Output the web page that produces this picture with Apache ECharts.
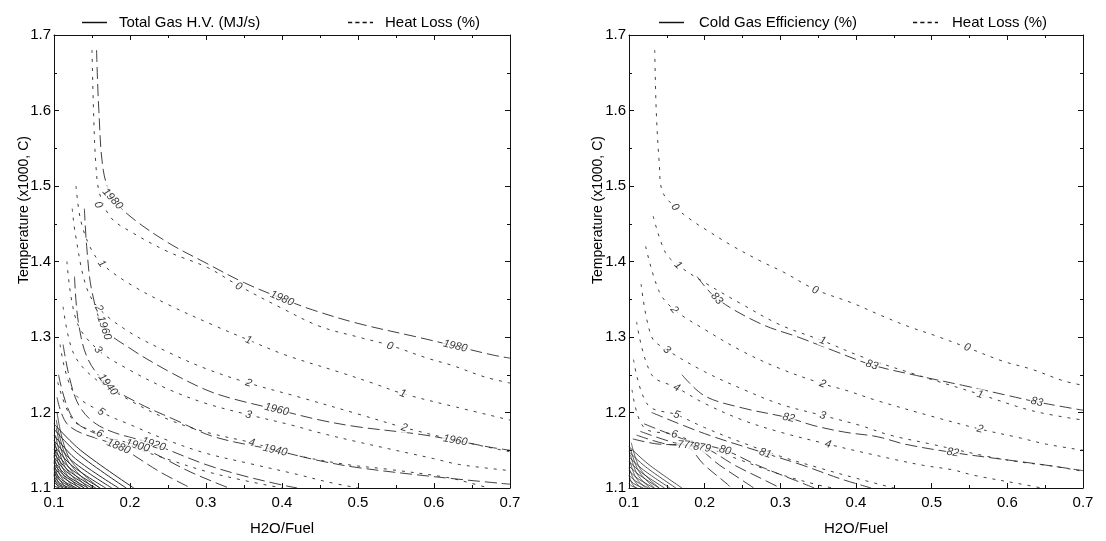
<!DOCTYPE html>
<html>
<head>
<meta charset="utf-8">
<script src="https://cdn.jsdelivr.net/npm/echarts@6/dist/echarts.min.js"></script>
<style>
  html, body { margin: 0; padding: 0; background: #fff; }
  #chart { width: 1106px; height: 541px; }
</style>
</head>
<body>
<div id="chart"></div>
<script>
// ---- axis ranges and tick labels -------------------------------------
const xTickLabels = ['0.1', '0.2', '0.3', '0.4', '0.5', '0.6', '0.7'];
const yTickLabels = ['1.1', '1.2', '1.3', '1.4', '1.5', '1.6', '1.7'];

// ---- heat loss contours (%), both panels ---------------------------------
const heatLossLevels = [0, 1, 2, 3, 4, 5, 6];

const heatLossLeft = [
  [[0.150,1.680],[0.152,1.600],[0.155,1.530],[0.160,1.490],[0.175,1.458],[0.200,1.440],[0.250,1.413],[0.302,1.392],[0.343,1.368],[0.400,1.338],[0.450,1.314],[0.500,1.300],[0.542,1.289],[0.591,1.272],[0.625,1.262],[0.667,1.247],[0.700,1.239]],
  [[0.129,1.500],[0.135,1.455],[0.148,1.418],[0.163,1.397],[0.200,1.370],[0.250,1.343],[0.309,1.316],[0.356,1.296],[0.405,1.276],[0.477,1.253],[0.519,1.239],[0.559,1.225],[0.630,1.207],[0.700,1.190]],
  [[0.124,1.470],[0.128,1.437],[0.142,1.368],[0.159,1.338],[0.200,1.306],[0.250,1.280],[0.300,1.258],[0.356,1.239],[0.424,1.220],[0.500,1.198],[0.561,1.180],[0.630,1.163],[0.700,1.148]],
  [[0.117,1.400],[0.130,1.320],[0.158,1.283],[0.200,1.256],[0.250,1.231],[0.300,1.212],[0.356,1.197],[0.410,1.184],[0.450,1.173],[0.500,1.161],[0.599,1.139],[0.634,1.131],[0.700,1.123]],
  [[0.112,1.340],[0.125,1.280],[0.150,1.248],[0.200,1.216],[0.250,1.191],[0.300,1.174],[0.360,1.160],[0.420,1.143],[0.486,1.131],[0.538,1.125],[0.617,1.114],[0.650,1.106],[0.672,1.100]],
  [[0.108,1.290],[0.125,1.228],[0.162,1.201],[0.200,1.184],[0.250,1.163],[0.300,1.146],[0.359,1.132],[0.420,1.118],[0.460,1.108],[0.500,1.100]],
  [[0.105,1.240],[0.125,1.190],[0.160,1.172],[0.200,1.155],[0.250,1.138],[0.300,1.122],[0.350,1.110],[0.400,1.100]]
];

const heatLossRight = [
  [[0.134,1.680],[0.136,1.600],[0.140,1.530],[0.144,1.493],[0.161,1.472],[0.185,1.453],[0.202,1.442],[0.236,1.421],[0.273,1.401],[0.304,1.386],[0.346,1.363],[0.395,1.345],[0.432,1.329],[0.469,1.314],[0.507,1.301],[0.547,1.286],[0.594,1.268],[0.633,1.257],[0.674,1.242],[0.700,1.236]],
  [[0.132,1.460],[0.148,1.412],[0.165,1.395],[0.200,1.372],[0.250,1.343],[0.300,1.316],[0.356,1.295],[0.410,1.273],[0.480,1.250],[0.564,1.224],[0.634,1.202],[0.700,1.190]],
  [[0.122,1.420],[0.140,1.360],[0.160,1.336],[0.200,1.310],[0.250,1.281],[0.300,1.258],[0.356,1.238],[0.388,1.229],[0.427,1.216],[0.500,1.195],[0.564,1.178],[0.614,1.167],[0.652,1.158],[0.700,1.150]],
  [[0.116,1.370],[0.130,1.300],[0.150,1.283],[0.200,1.254],[0.250,1.231],[0.300,1.211],[0.356,1.196],[0.405,1.183],[0.445,1.170],[0.500,1.158],[0.573,1.142],[0.620,1.134],[0.660,1.129],[0.700,1.122]],
  [[0.110,1.320],[0.130,1.250],[0.163,1.233],[0.200,1.212],[0.250,1.190],[0.300,1.174],[0.363,1.158],[0.450,1.138],[0.489,1.130],[0.528,1.124],[0.555,1.117],[0.630,1.103],[0.645,1.100]],
  [[0.106,1.270],[0.125,1.210],[0.163,1.197],[0.200,1.180],[0.250,1.160],[0.300,1.142],[0.350,1.127],[0.400,1.113],[0.450,1.100]],
  [[0.104,1.230],[0.120,1.180],[0.160,1.171],[0.200,1.155],[0.250,1.136],[0.300,1.118],[0.350,1.104],[0.370,1.100]]
];

// ---- total gas heating value contours (MJ/s), left panel ---------------
const gasHVLevels = [1980, 1960, 1940, 1920, 1900, 1880];
const gasHVLeft = [
  [[0.156,1.680],[0.159,1.600],[0.165,1.520],[0.177,1.485],[0.200,1.460],[0.250,1.425],[0.300,1.398],[0.350,1.372],[0.400,1.351],[0.440,1.336],[0.500,1.318],[0.582,1.299],[0.628,1.288],[0.678,1.276],[0.700,1.272]],
  [[0.140,1.470],[0.143,1.420],[0.150,1.360],[0.166,1.312],[0.200,1.285],[0.250,1.255],[0.300,1.230],[0.336,1.218],[0.393,1.204],[0.450,1.190],[0.500,1.181],[0.582,1.171],[0.628,1.163],[0.674,1.154],[0.700,1.150]],
  [[0.127,1.380],[0.132,1.320],[0.145,1.270],[0.171,1.237],[0.210,1.213],[0.260,1.190],[0.310,1.168],[0.391,1.150],[0.450,1.136],[0.500,1.127],[0.600,1.115],[0.700,1.105]],
  [[0.112,1.290],[0.130,1.215],[0.160,1.182],[0.231,1.158],[0.300,1.131],[0.350,1.116],[0.400,1.104],[0.420,1.100]],
  [[0.106,1.250],[0.125,1.192],[0.160,1.170],[0.210,1.156],[0.280,1.121],[0.330,1.100]],
  [[0.104,1.220],[0.120,1.182],[0.185,1.155],[0.240,1.121],[0.280,1.100]]
];
// crowded low-value contours in the lower-left corner
const gasHVCorner = [
  [[0.100,1.185],[0.135,1.150],[0.205,1.100]],
  [[0.100,1.178],[0.132,1.145],[0.195,1.100]],
  [[0.100,1.170],[0.128,1.139],[0.185,1.100]],
  [[0.100,1.163],[0.125,1.135],[0.176,1.100]],
  [[0.100,1.157],[0.122,1.131],[0.168,1.100]],
  [[0.100,1.151],[0.120,1.127],[0.161,1.100]],
  [[0.100,1.146],[0.118,1.124],[0.155,1.100]],
  [[0.100,1.141],[0.117,1.121],[0.150,1.100]],
  [[0.100,1.136],[0.115,1.118],[0.145,1.100]],
  [[0.100,1.132],[0.114,1.116],[0.140,1.100]],
  [[0.100,1.128],[0.112,1.114],[0.135,1.100]],
  [[0.100,1.124],[0.110,1.111],[0.130,1.100]],
  [[0.100,1.120],[0.109,1.109],[0.126,1.100]],
  [[0.100,1.116],[0.107,1.107],[0.121,1.100]],
  [[0.100,1.112],[0.106,1.105],[0.117,1.100]],
  [[0.100,1.108],[0.104,1.104],[0.112,1.100]],
  [[0.100,1.104],[0.102,1.102],[0.107,1.100]]
];
const heatLossCornerLeft = [
  [[0.104,1.200],[0.120,1.140],[0.160,1.100]],
  [[0.103,1.190],[0.118,1.137],[0.152,1.100]],
  [[0.103,1.180],[0.116,1.133],[0.145,1.100]],
  [[0.102,1.170],[0.114,1.129],[0.139,1.100]],
  [[0.101,1.161],[0.112,1.125],[0.133,1.100]],
  [[0.101,1.152],[0.110,1.121],[0.127,1.100]],
  [[0.100,1.143],[0.108,1.117],[0.122,1.100]],
  [[0.100,1.135],[0.106,1.113],[0.117,1.100]],
  [[0.100,1.127],[0.105,1.109],[0.112,1.100]],
  [[0.100,1.118],[0.103,1.106],[0.107,1.100]]
];

// ---- cold gas efficiency contours (%), right panel ----------------------
const coldGasLevels = [83, 82, 81, 80, 79, 78, 77];
const coldGasRight = [
  [[0.190,1.380],[0.216,1.351],[0.273,1.318],[0.326,1.299],[0.370,1.282],[0.421,1.263],[0.480,1.249],[0.541,1.236],[0.603,1.222],[0.639,1.214],[0.700,1.203]],
  [[0.170,1.250],[0.200,1.222],[0.250,1.206],[0.311,1.193],[0.343,1.183],[0.385,1.174],[0.428,1.168],[0.465,1.158],[0.528,1.147],[0.586,1.139],[0.639,1.132],[0.700,1.123]],
  [[0.130,1.200],[0.200,1.172],[0.280,1.146],[0.330,1.130],[0.380,1.112],[0.420,1.100]],
  [[0.120,1.185],[0.180,1.162],[0.227,1.150],[0.270,1.130],[0.320,1.110],[0.345,1.100]],
  [[0.115,1.175],[0.160,1.160],[0.200,1.153],[0.240,1.130],[0.280,1.110],[0.300,1.100]],
  [[0.110,1.170],[0.150,1.158],[0.185,1.155],[0.220,1.130],[0.250,1.110],[0.265,1.100]],
  [[0.105,1.165],[0.140,1.158],[0.172,1.157],[0.200,1.130],[0.230,1.105],[0.235,1.100]]
];
const coldGasCorner = [
  [[0.100,1.155],[0.125,1.132],[0.170,1.100]],
  [[0.100,1.148],[0.122,1.128],[0.162,1.100]],
  [[0.100,1.141],[0.119,1.124],[0.154,1.100]],
  [[0.100,1.135],[0.117,1.120],[0.147,1.100]],
  [[0.100,1.129],[0.114,1.117],[0.140,1.100]],
  [[0.100,1.123],[0.111,1.113],[0.133,1.100]],
  [[0.100,1.117],[0.109,1.109],[0.126,1.100]],
  [[0.100,1.112],[0.106,1.106],[0.119,1.100]],
  [[0.100,1.106],[0.103,1.103],[0.111,1.100]]
];
const heatLossCornerRight = [
  [[0.103,1.160],[0.115,1.125],[0.140,1.100]],
  [[0.102,1.152],[0.113,1.122],[0.134,1.100]],
  [[0.102,1.144],[0.111,1.118],[0.128,1.100]],
  [[0.101,1.136],[0.109,1.114],[0.122,1.100]],
  [[0.100,1.127],[0.107,1.110],[0.116,1.100]],
  [[0.100,1.117],[0.104,1.106],[0.109,1.100]]
];

// ---- inline contour labels: [x, y, level] --------------------------------
const heatLossLabelsLeft = [
  [0.158,1.475,0],[0.343,1.367,0],[0.542,1.288,0],
  [0.163,1.397,1],[0.356,1.296,1],[0.559,1.225,1],
  [0.159,1.338,2],[0.356,1.239,2],[0.561,1.180,2],
  [0.158,1.283,3],[0.356,1.197,3],
  [0.165,1.240,4],[0.360,1.160,4],
  [0.162,1.201,5],[0.160,1.172,6]
];
const gasHVLabelsLeft = [
  [0.177,1.483,1980],[0.400,1.351,1980],[0.628,1.288,1980],
  [0.166,1.312,1960],[0.393,1.204,1960],[0.628,1.163,1960],
  [0.171,1.237,1940],[0.391,1.150,1940],
  [0.231,1.158,1920],[0.210,1.156,1900],[0.185,1.155,1880]
];
const heatLossLabelsRight = [
  [0.161,1.472,0],[0.346,1.362,0],[0.547,1.286,0],
  [0.165,1.395,1],[0.356,1.295,1],[0.564,1.224,1],
  [0.160,1.336,2],[0.356,1.238,2],[0.564,1.178,2],
  [0.150,1.283,3],[0.356,1.196,3],
  [0.163,1.233,4],[0.363,1.158,4],
  [0.163,1.197,5],[0.160,1.171,6]
];
const coldGasLabelsRight = [
  [0.216,1.351,83],[0.421,1.263,83],[0.639,1.214,83],
  [0.311,1.193,82],[0.528,1.147,82],
  [0.280,1.146,81],[0.227,1.150,80],[0.200,1.153,79],[0.185,1.155,78],[0.172,1.157,77]
];

// ---- chart --------------------------------------------------------------
const FONT = '"Liberation Sans", Arial, Helvetica, sans-serif';
const INK = '#111';
const LINE_INK = '#2a2a2a';
const HL_NAME = 'Heat Loss (%)';
const HV_NAME = 'Total Gas H.V. (MJ/s)';
const CG_NAME = 'Cold Gas Efficiency (%)';
const DASH_HL = [3, 6];
const DASH_LEVEL = [12, 5];
// legend glyphs: a plain bar and a row of short dashes
const ICON_SOLID = 'path://M0,0h24v1.4h-24z';
const ICON_DASHED = 'path://M0,0h4v1.4h-4zM7,0h4v1.4h-4zM14,0h4v1.4h-4zM21,0h3v1.4h-3z';

const chart = echarts.init(document.getElementById('chart'), null, { renderer: 'canvas' });

function xAxes(gridIndex) {
  const base = {
    type: 'value', gridIndex, min: 0.1, max: 0.7, interval: 0.1,
    axisLine: { show: true, onZero: false, lineStyle: { color: INK, width: 1 } },
    axisTick: { show: true, inside: true, length: 5, lineStyle: { color: INK } },
    minorTick: { show: true, splitNumber: 2, length: 3, lineStyle: { color: INK } },
    splitLine: { show: false }
  };
  return [
    Object.assign({}, base, {
      position: 'bottom',
      axisLabel: { margin: 7, fontSize: 15, color: '#000', fontFamily: FONT,
        formatter: v => xTickLabels[Math.round((v - 0.1) * 10)] },
      name: 'H2O/Fuel', nameLocation: 'middle', nameGap: 33,
      nameTextStyle: { fontSize: 15, color: '#000', fontFamily: FONT }
    }),
    Object.assign({}, base, { position: 'top', axisLabel: { show: false } })
  ];
}
function yAxes(gridIndex) {
  const base = {
    type: 'value', gridIndex, min: 1.1, max: 1.7, interval: 0.1,
    axisLine: { show: true, onZero: false, lineStyle: { color: INK, width: 1 } },
    axisTick: { show: true, inside: true, length: 5, lineStyle: { color: INK } },
    minorTick: { show: true, splitNumber: 2, length: 3, lineStyle: { color: INK } },
    splitLine: { show: false }
  };
  return [
    Object.assign({}, base, {
      position: 'left',
      axisLabel: { margin: 3, fontSize: 15, color: '#000', fontFamily: FONT,
        formatter: v => yTickLabels[Math.round((v - 1.1) * 10)] }
    }),
    Object.assign({}, base, { position: 'right', axisLabel: { show: false } })
  ];
}

function contourSeries(name, lines, axisIdx, dash, width) {
  return lines.map(pts => ({
    type: 'line', name, xAxisIndex: axisIdx, yAxisIndex: axisIdx,
    data: pts, symbol: 'none', showSymbol: false, smooth: 0.35,
    itemStyle: { color: INK },
    lineStyle: { color: LINE_INK, width: width || 0.9, type: dash },
    silent: true, animation: false, z: 2
  }));
}

const lineSeries = [].concat(
  contourSeries(HV_NAME, gasHVLeft, 0, DASH_LEVEL),
  contourSeries(HL_NAME, heatLossLeft, 0, DASH_HL),
  contourSeries(HV_NAME, gasHVCorner, 0, 'solid', 1),
  contourSeries(HL_NAME, heatLossCornerLeft, 0, 'solid', 0.8),
  contourSeries(CG_NAME, coldGasRight, 2, DASH_LEVEL),
  contourSeries(HL_NAME, heatLossRight, 2, DASH_HL),
  contourSeries(CG_NAME, coldGasCorner, 2, 'solid', 0.8),
  contourSeries(HL_NAME, heatLossCornerRight, 2, 'solid', 0.7)
);

function legendItem(left, name, icon, pad) {
  return {
    left, top: 10, itemWidth: 25, itemHeight: 2, selectedMode: false,
    data: [{ name, icon, itemStyle: { color: INK } }],
    textStyle: { fontSize: 15, color: '#000', fontFamily: FONT, padding: [0, 0, 0, pad] }
  };
}

const option = {
  animation: false,
  backgroundColor: '#fff',
  grid: [
    { left: 54, top: 35, width: 456, height: 456 },
    { left: 629, top: 35, width: 454, height: 456 }
  ],
  xAxis: [].concat(xAxes(0), xAxes(1)),
  yAxis: [].concat(yAxes(0), yAxes(1)),
  legend: [
    legendItem(77, HV_NAME, ICON_SOLID, 7),
    legendItem(343, HL_NAME, ICON_DASHED, 7),
    legendItem(654, CG_NAME, ICON_SOLID, 10),
    legendItem(908, HL_NAME, ICON_DASHED, 9)
  ],
  graphic: [
    { type: 'text', x: 24, y: 210, rotation: Math.PI / 2,
      style: { text: 'Temperature (x1000, C)', fontSize: 14, fontFamily: FONT, fill: '#000',
        align: 'center', verticalAlign: 'middle' } },
    { type: 'text', x: 598, y: 210, rotation: Math.PI / 2,
      style: { text: 'Temperature (x1000, C)', fontSize: 14, fontFamily: FONT, fill: '#000',
        align: 'center', verticalAlign: 'middle' } }
  ],
  // series sit on the bottom/left axes: index 0 = left panel, index 2 = right panel
  series: lineSeries
};
chart.setOption(option);

// place the inline labels along the contour they belong to
function angledLabels(labels, levels, lines, axisIdx) {
  const finder = { xAxisIndex: axisIdx, yAxisIndex: axisIdx };
  return labels.map(([x, y, lev]) => {
    const pts = lines[levels.indexOf(lev)].map(p => chart.convertToPixel(finder, p));
    const q = chart.convertToPixel(finder, [x, y]);
    let best = Infinity, ang = 0;
    for (let i = 0; i < pts.length - 1; i++) {
      const a = pts[i], b = pts[i + 1];
      const dx = b[0] - a[0], dy = b[1] - a[1];
      const len2 = dx * dx + dy * dy || 1;
      let t = ((q[0] - a[0]) * dx + (q[1] - a[1]) * dy) / len2;
      t = Math.max(0, Math.min(1, t));
      const px = a[0] + t * dx, py = a[1] + t * dy;
      const d = (q[0] - px) ** 2 + (q[1] - py) ** 2;
      if (d < best) { best = d; ang = Math.atan2(-dy, dx) * 180 / Math.PI; }
    }
    if (ang > 90) ang -= 180;
    if (ang < -90) ang += 180;
    return { value: [x, y], label: { rotate: ang, formatter: String(lev) } };
  });
}

function labelSeries(data, axisIdx) {
  return {
    type: 'scatter', xAxisIndex: axisIdx, yAxisIndex: axisIdx,
    data, symbolSize: 0, silent: true, animation: false, z: 5,
    label: {
      show: true, position: 'inside', fontSize: 11, fontStyle: 'italic',
      fontFamily: FONT, color: '#000', backgroundColor: '#fff', padding: [0, 1]
    }
  };
}

chart.setOption({
  series: lineSeries.concat([
    labelSeries(angledLabels(heatLossLabelsLeft, heatLossLevels, heatLossLeft, 0), 0),
    labelSeries(angledLabels(gasHVLabelsLeft, gasHVLevels, gasHVLeft, 0), 0),
    labelSeries(angledLabels(heatLossLabelsRight, heatLossLevels, heatLossRight, 2), 2),
    labelSeries(angledLabels(coldGasLabelsRight, coldGasLevels, coldGasRight, 2), 2)
  ])
});
</script>
</body>
</html>
